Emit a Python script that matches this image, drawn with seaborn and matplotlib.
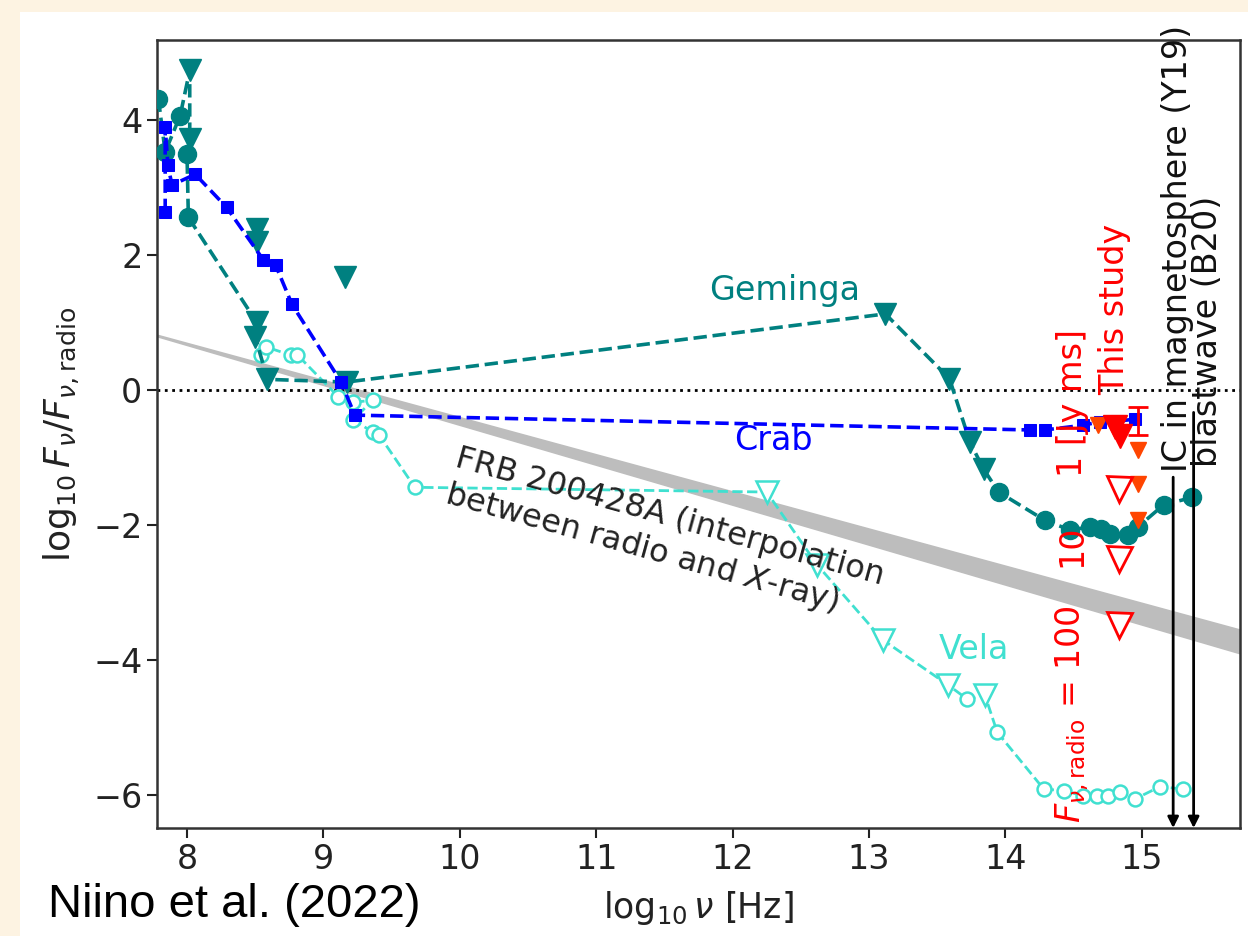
import matplotlib
matplotlib.use("Agg")
import matplotlib.pyplot as plt
import seaborn as sns
import pandas as pd
from matplotlib.patches import Rectangle

# ---- Crab pulsar SED relative to radio (filled squares) ----
crab_lognu = [7.84, 7.84, 7.86, 7.89, 8.06, 8.29, 8.56, 8.65, 8.77, 9.13, 9.23,
              14.18, 14.29, 14.57, 14.69, 14.82, 14.95]
crab_ratio = [2.64, 3.90, 3.33, 3.04, 3.20, 2.71, 1.93, 1.85, 1.27, 0.12, -0.37,
              -0.59, -0.59, -0.52, -0.47, -0.46, -0.43]

# ---- Geminga (circles: detections, triangles: upper limits) ----
gem_lognu = [7.79, 7.84, 7.95, 8.02, 8.02, 8.00, 8.01, 8.51, 8.50, 8.59, 9.17,
             13.12, 13.59, 13.74, 13.84, 13.95, 14.29, 14.47, 14.62, 14.70, 14.77,
             14.90, 14.97, 15.16, 15.37]
gem_ratio = [4.32, 3.53, 4.07, 4.74, 3.72, 3.50, 2.56, 1.01, 0.79, 0.16, 0.12,
             1.13, 0.17, -0.77, -1.17, -1.51, -1.93, -2.07, -2.03, -2.06, -2.13,
             -2.15, -2.03, -1.70, -1.59]
gem_is_limit = [0, 0, 0, 1, 1, 0, 0, 1, 1, 1, 1,
                1, 1, 1, 1, 0, 0, 0, 0, 0, 0,
                0, 0, 0, 0]
gem_extra_lognu = [8.51, 8.51, 9.16]
gem_extra_ratio = [2.39, 2.19, 1.67]

# ---- Vela (open circles: detections, open triangles: upper limits) ----
vela_lognu = [8.54, 8.58, 8.76, 8.81, 9.11, 9.22, 9.36, 9.22, 9.36, 9.41, 9.67,
              12.25, 12.62, 13.10, 13.58, 13.72, 13.85, 13.94, 14.28, 14.43, 14.57,
              14.67, 14.75, 14.84, 14.95, 15.13, 15.30]
vela_ratio = [0.52, 0.64, 0.52, 0.52, -0.10, -0.18, -0.15, -0.44, -0.62, -0.67, -1.44,
              -1.51, -2.59, -3.70, -4.37, -4.58, -4.52, -5.07, -5.91, -5.94, -6.01,
              -6.01, -6.01, -5.96, -6.06, -5.88, -5.91]
vela_is_limit = [0, 0, 0, 0, 0, 0, 0, 0, 0, 0, 0,
                 1, 1, 1, 1, 0, 1, 0, 0, 0, 0,
                 0, 0, 0, 0, 0, 0]

# ---- This study: optical upper limits for several radio fluences ----
study_open_lognu = [14.83, 14.83, 14.83]
study_open_ratio = [-1.47, -2.50, -3.48]
study_fill_lognu = [14.80, 14.84]
study_fill_ratio = [-0.55, -0.68]
other_lim_lognu = [14.68, 14.97, 14.97, 14.97]
other_lim_ratio = [-0.52, -0.89, -1.39, -1.93]
errbar_lognu = 14.97
errbar_lo, errbar_hi = -0.67, -0.25

# ---- FRB 200428A radio/X-ray interpolation band ----
frb_lognu = [7.78, 15.72]
frb_upper = [0.82, -3.55]
frb_lower = [0.80, -3.90]

# ---- Model predictions (arrows) ----
ic_lognu, ic_start = 15.23, -1.29
bw_lognu, bw_start = 15.38, -0.33

XLIM = (7.78, 15.72)
YLIM = (-6.49, 5.19)

sns.set_theme(style="ticks")
plt.rcParams["font.family"] = ["DejaVu Sans"]
plt.rcParams["mathtext.fontset"] = "dejavusans"

fig = plt.figure(figsize=(12.48, 9.36), dpi=100, facecolor="#fdf3e2")
fig.patches.append(Rectangle((20 / 1248, 0), 1, 1 - 12 / 936, transform=fig.transFigure,
                             facecolor="white", edgecolor="none", zorder=-10))
ax = fig.add_axes([157 / 1248, 1 - 828 / 936, (1240 - 157) / 1248, (828 - 40) / 936])
ax.set_facecolor("white")

FS = 24

# FRB band
ax.fill_between(frb_lognu, frb_lower, frb_upper, color="#bdbdbd", lw=1.2,
                edgecolor="#bdbdbd", zorder=1)
ax.axhline(0, color="black", ls=":", lw=2, zorder=2)

# Vela
vela = pd.DataFrame({"x": vela_lognu, "y": vela_ratio, "lim": vela_is_limit})
sns.lineplot(data=vela, x="x", y="y", sort=False, estimator=None, ax=ax,
             color="turquoise", lw=2, linestyle="--", zorder=3)
for lim, mk, ms in [(0, "o", 10), (1, "v", 16)]:
    sub = vela[vela["lim"] == lim]
    ax.plot(sub["x"], sub["y"], ls="none", marker=mk, ms=ms, mfc="white",
            mec="turquoise", mew=1.8, zorder=4)

# Geminga
gem = pd.DataFrame({"x": gem_lognu, "y": gem_ratio, "lim": gem_is_limit})
sns.lineplot(data=gem, x="x", y="y", sort=False, estimator=None, ax=ax,
             color="teal", lw=2.6, linestyle="--", zorder=5)
for lim, mk, ms in [(0, "o", 13), (1, "v", 16)]:
    sub = gem[gem["lim"] == lim]
    ax.plot(sub["x"], sub["y"], ls="none", marker=mk, ms=ms, color="teal", zorder=6)
ax.plot(gem_extra_lognu, gem_extra_ratio, ls="none", marker="v", ms=16,
        color="teal", zorder=6)

# Crab
crab = pd.DataFrame({"x": crab_lognu, "y": crab_ratio})
sns.lineplot(data=crab, x="x", y="y", sort=False, estimator=None, ax=ax,
             color="blue", lw=2.6, linestyle="--", marker="s", markersize=8.5,
             markeredgecolor="blue", zorder=7)

# This study
ax.errorbar([errbar_lognu], [(errbar_lo + errbar_hi) / 2],
            yerr=[[(errbar_hi - errbar_lo) / 2], [(errbar_hi - errbar_lo) / 2]],
            fmt="none", ecolor="red", elinewidth=2, capsize=7, capthick=2, zorder=8)
ax.plot(other_lim_lognu, other_lim_ratio, ls="none", marker="v", ms=12,
        color="orangered", zorder=9)
ax.plot(study_fill_lognu, study_fill_ratio, ls="none", marker="v", ms=17,
        color="red", zorder=9)
ax.plot(study_open_lognu, study_open_ratio, ls="none", marker="v", ms=18,
        mfc="white", mec="red", mew=2, zorder=9)

# Model arrows
for xv, y0 in [(ic_lognu, ic_start), (bw_lognu, bw_start)]:
    ax.annotate("", xy=(xv, YLIM[0]), xytext=(xv, y0),
                arrowprops=dict(arrowstyle="-|>", color="black", lw=2,
                                mutation_scale=16, shrinkA=0, shrinkB=0),
                zorder=10)

# Labels on the plot
ax.text(12.38, 1.48, "Geminga", color="teal", fontsize=FS, ha="center", va="center")
ax.text(12.30, -0.74, "Crab", color="blue", fontsize=FS, ha="center", va="center")
ax.text(13.77, -3.85, "Vela", color="turquoise", fontsize=FS, ha="center", va="center")
ax.text(10.0, -0.78, "FRB 200428A (interpolation\nbetween radio and $X$-ray)",
        fontsize=23, color="#222222", rotation=-15.5, rotation_mode="anchor",
        ha="left", va="top", zorder=11)

ax.text(14.49, -4.80, r"$F_{\nu,\rm radio}$ = 100", color="red", fontsize=FS,
        rotation=90, ha="center", va="center", zorder=11)
ax.text(14.49, -2.30, "10", color="red", fontsize=FS, rotation=90,
        ha="center", va="center", zorder=11)
ax.text(14.49, -0.19, "1 [Jy ms]", color="red", fontsize=FS, rotation=90,
        ha="center", va="center", zorder=11)
ax.text(14.80, 1.20, "This study", color="red", fontsize=FS, rotation=90,
        ha="center", va="center", zorder=11)
ax.text(ic_lognu + 0.03, -1.21, "IC in magnetosphere (Y19)", color="#111111",
        fontsize=FS, rotation=90, ha="center", va="bottom", zorder=11)
ax.text(bw_lognu + 0.10, -1.14, "blastwave (B20)", color="#111111",
        fontsize=FS, rotation=90, ha="center", va="bottom", zorder=11)

ax.set_xlim(*XLIM)
ax.set_ylim(*YLIM)
ax.set_xticks(range(8, 16))
ax.set_yticks([-6, -4, -2, 0, 2, 4])
ax.set_yticklabels(["\u22126", "\u22124", "\u22122", "0", "2", "4"])
ax.tick_params(axis="both", labelsize=FS, direction="out", length=7, width=1.5,
               colors="#222222")
for sp in ax.spines.values():
    sp.set_linewidth(1.8)
    sp.set_color("#333333")
ax.set_xlabel(r"$\log_{10}\nu$ [Hz]", fontsize=25, color="#222222", labelpad=10)
ax.set_ylabel(r"$\log_{10}F_\nu/F_{\nu,\rm radio}$", fontsize=26, color="#222222",
              labelpad=8)

fig.text(48 / 1248, 1 - 905 / 936, "Niino et al. (2022)", fontsize=34,
         family="Liberation Sans", color="black", ha="left", va="center")

fig.savefig("out.png", dpi=100, facecolor=fig.get_facecolor())
